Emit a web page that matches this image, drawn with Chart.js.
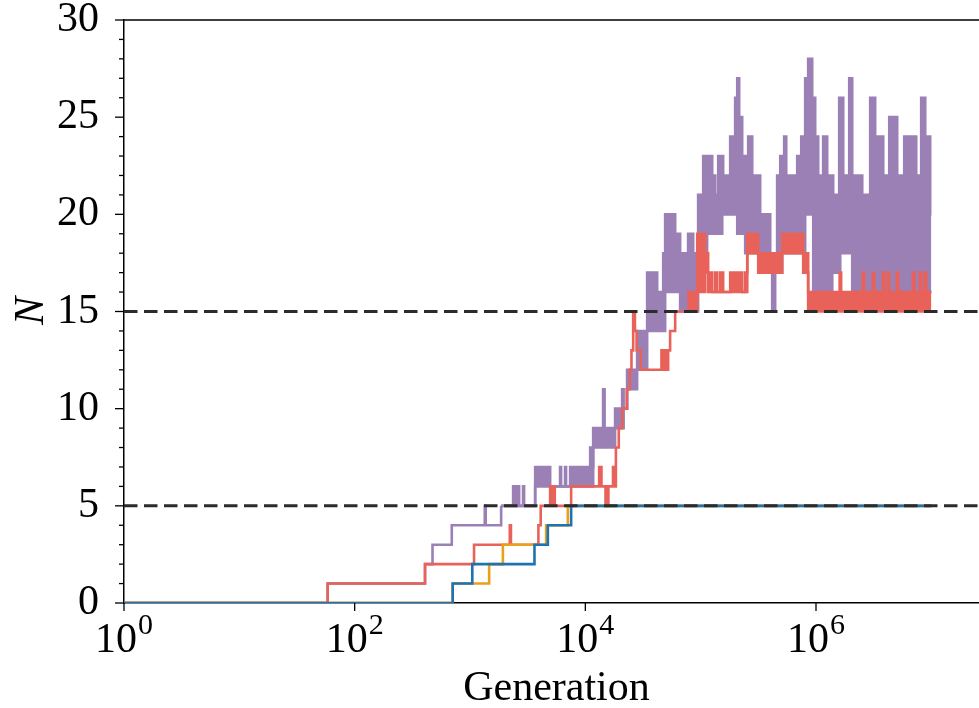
<!DOCTYPE html>
<html><head><meta charset="utf-8">
<script src="https://cdn.jsdelivr.net/npm/chart.js@4.4.0/dist/chart.umd.min.js"></script>
<style>
html,body{margin:0;padding:0;background:#fff;overflow:hidden;width:979px;height:708px}
#wrap{width:1010px;height:708px}
canvas{display:block}
</style>
</head><body><div id="wrap"><canvas id="c" width="1010" height="708"></canvas></div>
<script>
// Each point: [log10(Generation), N]; stepped lines hold N until the next point.
const blueSteps   = [[0,0],[2.85,1],[3.02,2],[3.559,3],[3.675,4],[3.877,5],[7.0,5]];
const orangeSteps = [[0,0],[2.85,1],[3.166,2],[3.285,3],[3.66,4],[3.848,5],[7.0,5]];
const redSteps = [[0,0],[1.766,1],[2.61,2],[3.035,3],[3.345,4],[3.355,3],[3.593,4],[3.613,5],
  [3.695,6],[3.705,5],[3.715,6],[3.735,5],[3.877,6],[4.12,7],[4.14,6],[4.175,5],[4.183,6],
  [4.192,5],[4.2,6],[4.24,7],[4.255,6],[4.265,8],[4.29,9],[4.32,10],[4.36,11],[4.385,12],
  [4.40,13],[4.415,15],[4.43,14],[4.445,13],[4.48,12],[4.66,13],[4.67,12],[4.692,13],[4.70,12],
  [4.718,13],[4.735,14],[4.779,15],[4.883,15]];
const redHigh = [[4.883,16],[4.97,19],[5.039,18],[5.065,17],[5.10,16],[5.126,17],[5.143,16],
  [5.169,17],[5.195,16],[5.256,17],[5.36,16],[5.386,17],[5.404,19],[5.499,18],[5.707,19],
  [5.889,18],[5.932,16],[6.205,17],[6.218,16],[6.405,17],[6.418,16],[6.492,17],[6.505,16],
  [6.58,17],[6.593,16],[6.622,17],[6.635,16],[6.70,17],[6.713,16],[6.84,17],[6.853,16],
  [6.90,17],[6.913,16],[6.943,17],[6.956,16],[7.0,16]];
const redLow = [[4.883,15],[4.97,16],[5.039,17],[5.065,16],[5.404,18],[5.499,17],[5.707,18],
  [5.889,17],[5.932,15],[7.0,15]];
const purpleSteps = [[0,0],[1.766,1],[2.61,2],[2.675,3],[2.842,4],[3.128,5],[3.136,4],[3.27,5]];
const purpleHigh = [[3.27,5],[3.374,6],[3.382,5],[3.395,6],[3.404,5],[3.417,6],[3.426,5],[3.46,6],
  [3.469,5],[3.565,7],[3.695,6],[3.781,7],[3.79,6],[3.824,7],[3.833,6],[3.868,7],[4.042,8],
  [4.055,7],[4.068,9],[4.154,11],[4.167,9],[4.258,10],[4.319,11],[4.332,10],[4.362,12],
  [4.449,14],[4.536,17],[4.623,16],[4.675,18],[4.692,20],[4.779,19],[4.822,18],[4.891,19],
  [4.935,18],[4.978,21],[5.022,23],[5.10,22],[5.126,21],[5.152,23],[5.195,22],[5.256,24],
  [5.299,26],[5.317,27],[5.334,25],[5.36,23],[5.412,24],[5.447,22],[5.516,20],[5.603,18],
  [5.663,22],[5.69,23],[5.724,24],[5.742,22],[5.837,23],[5.872,24],[5.906,27],[5.932,28],
  [5.967,26],[5.993,24],[6.019,22],[6.062,24],[6.097,22],[6.149,21],[6.201,26],[6.236,22],
  [6.288,27],[6.314,22],[6.401,21],[6.47,26],[6.513,24],[6.583,22],[6.635,25],[6.704,22],
  [6.765,24],[6.869,22],[6.912,26],[6.947,24],[6.99,20],[7.0,20]];
const purpleLow = [[3.27,5],[3.565,6],[4.068,8],[4.258,9],[4.332,10],[4.362,11],[4.449,12],
  [4.536,14],[4.692,16],[4.822,15],[4.978,17],[5.056,19],[5.187,20],[5.317,19],[5.386,18],
  [5.516,17],[5.62,15],[5.646,17],[5.707,18],[5.906,20],[5.976,16],[6.141,17],[6.21,18],
  [6.314,16],[7.0,16]];
const thresholds = [5, 15];
const xTickExponents = [0, 2, 4, 6];
const yTickLabels = [0, 5, 10, 15, 20, 25, 30];
const xMaxExp = 7.5;

const BLUE = '#1f73b0', ORANGE = '#e8a11b', RED = '#e8625a', PURPLE = '#9b80b6';
const SERIF = '"Liberation Serif","DejaVu Serif",serif';

const toPts = a => a.map(p => ({x: Math.pow(10, p[0]), y: p[1]}));
const line = (data, color, order, extra) => Object.assign({
  data: toPts(data), borderColor: color, backgroundColor: color, borderWidth: 2.6,
  stepped: true, pointRadius: 0, fill: false, order: order
}, extra || {});

const datasets = [];
thresholds.forEach(t => datasets.push({
  data: [{x: 1, y: t}, {x: Math.pow(10, xMaxExp), y: t}],
  borderColor: '#2b2b2b', borderWidth: 3, borderDash: [13.5, 6.5], pointRadius: 0, fill: false, order: 0
}));
datasets.push(line(blueSteps, BLUE, 1));
datasets.push(line(orangeSteps, ORANGE, 2));
datasets.push(line(redSteps, RED, 3));
datasets.push(line(redHigh, RED, 3));
datasets.push(line(redLow, RED, 3, {fill: '-1'}));
datasets.push(line(purpleSteps, PURPLE, 4));
datasets.push(line(purpleHigh, PURPLE, 4));
datasets.push(line(purpleLow, PURPLE, 4, {fill: '-1'}));

const decor = {
  id: 'decor',
  afterDraw(chart) {
    const {ctx, chartArea: a, scales: {x, y}} = chart;
    ctx.save();
    ctx.strokeStyle = '#000'; ctx.lineWidth = 1.5;
    ctx.beginPath();
    ctx.moveTo(a.left, a.top); ctx.lineTo(a.right, a.top); ctx.lineTo(a.right, a.bottom);
    ctx.stroke();
    ctx.lineWidth = 1.3;
    for (let v = 0; v <= 30; v++) {
      const py = y.getPixelForValue(v);
      const len = (v % 5 === 0) ? 9 : 5;
      ctx.beginPath(); ctx.moveTo(a.left - len, py); ctx.lineTo(a.left, py); ctx.stroke();
    }
    xTickExponents.forEach(e => {
      const px = x.getPixelForValue(Math.pow(10, e));
      ctx.beginPath(); ctx.moveTo(px, a.bottom); ctx.lineTo(px, a.bottom + 8); ctx.stroke();
    });
    ctx.fillStyle = '#000';
    ctx.textBaseline = 'alphabetic'; ctx.textAlign = 'left';
    xTickExponents.forEach(e => {
      const px = x.getPixelForValue(Math.pow(10, e));
      ctx.font = '42px ' + SERIF;
      const w1 = ctx.measureText('10').width;
      ctx.font = '30px ' + SERIF;
      const w2 = ctx.measureText(String(e)).width;
      const start = px - (w1 + w2 + 1) / 2;
      ctx.font = '42px ' + SERIF;
      ctx.fillText('10', start, 652);
      ctx.font = '30px ' + SERIF;
      ctx.fillText(String(e), start + w1 + 1, 634);
    });
    ctx.font = '42px ' + SERIF; ctx.textAlign = 'center';
    ctx.fillText('Generation', (a.left + a.right) / 2, 700);
    ctx.translate(32, 311); ctx.rotate(-Math.PI / 2);
    ctx.font = 'italic 42px ' + SERIF; ctx.textBaseline = 'middle';
    ctx.fillText('N', 0, 0);
    ctx.restore();
  }
};

new Chart(document.getElementById('c'), {
  type: 'line',
  data: {datasets},
  options: {
    responsive: false, animation: false, parsing: true,
    layout: {padding: {top: 20, right: 21, left: 0, bottom: 0}},
    plugins: {legend: {display: false}, tooltip: {enabled: false}},
    scales: {
      x: {type: 'logarithmic', min: 1, max: Math.pow(10, xMaxExp),
        grid: {display: false}, border: {display: true, color: '#000', width: 1.5},
        ticks: {display: false},
        afterFit(s) { s.height = 105; s.paddingLeft = 0; s.paddingRight = 0; }},
      y: {min: 0, max: 30,
        grid: {display: false}, border: {display: true, color: '#000', width: 1.5},
        ticks: {stepSize: 1, autoSkip: false, color: '#000', padding: 17,
          font: {family: SERIF, size: 42},
          callback: v => yTickLabels.includes(v) ? String(v) : ''},
        afterFit(s) { s.width = 124; s.paddingTop = 0; s.paddingBottom = 0; }}
    }
  },
  plugins: [decor]
});
</script>
</body></html>
